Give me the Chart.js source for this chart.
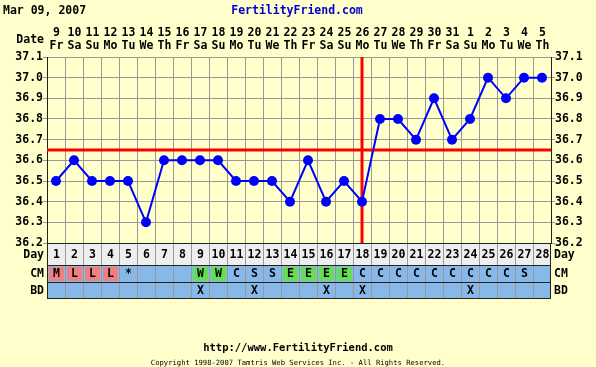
<!DOCTYPE html>
<html>
<head>
<meta charset="utf-8">
<script src="https://cdn.jsdelivr.net/npm/chart.js@4"></script>
<style>
  html, body { margin: 0; padding: 0; background: #ffffcc; }
  #wrap { width: 596px; height: 367px; }
</style>
</head>
<body>
<div id="wrap"><canvas id="bbtChart" width="596" height="367"></canvas></div>
<script>
  const chartDate = 'Mar 09, 2007';
  const days = [1, 2, 3, 4, 5, 6, 7, 8, 9, 10, 11, 12, 13, 14, 15, 16, 17, 18, 19, 20, 21, 22, 23, 24, 25, 26, 27, 28];
  const dates = ['9', '10', '11', '12', '13', '14', '15', '16', '17', '18', '19', '20', '21', '22', '23', '24', '25', '26', '27', '28', '29', '30', '31', '1', '2', '3', '4', '5'];
  const weekdays = ['Fr', 'Sa', 'Su', 'Mo', 'Tu', 'We', 'Th', 'Fr', 'Sa', 'Su', 'Mo', 'Tu', 'We', 'Th', 'Fr', 'Sa', 'Su', 'Mo', 'Tu', 'We', 'Th', 'Fr', 'Sa', 'Su', 'Mo', 'Tu', 'We', 'Th'];
  const temps = [36.5, 36.6, 36.5, 36.5, 36.5, 36.3, 36.6, 36.6, 36.6, 36.6, 36.5, 36.5, 36.5, 36.4, 36.6, 36.4, 36.5, 36.4, 36.8, 36.8, 36.7, 36.9, 36.7, 36.8, 37.0, 36.9, 37.0, 37.0];
  const cm = ['M', 'L', 'L', 'L', '*', '', '', '', 'W', 'W', 'C', 'S', 'S', 'E', 'E', 'E', 'E', 'C', 'C', 'C', 'C', 'C', 'C', 'C', 'C', 'C', 'S', ''];
  const bd = ['', '', '', '', '', '', '', '', 'X', '', '', 'X', '', '', '', 'X', '', 'X', '', '', '', '', '', 'X', '', '', '', ''];
  const coverline = 36.65;
  const ovulationDay = 18;
  const tempMin = 36.2;
  const tempMax = 37.1;

  const FONT = "'DejaVu Sans Mono', monospace";
  const cmColors = { M: '#f08080', L: '#f08080', W: '#66dd55', E: '#66dd55' };

  // 周りの文字・下の表
  const framePlugin = {
    id: 'frame',
    beforeDatasetsDraw(chart) {
      const { ctx, chartArea: a, scales: { x, y } } = chart;
      ctx.save();
      ctx.strokeStyle = '#ff0000';
      ctx.lineWidth = 3;
      const cy = y.getPixelForValue(coverline);
      ctx.beginPath();
      ctx.moveTo(a.left, cy);
      ctx.lineTo(a.right, cy);
      ctx.stroke();
      const ox = x.getPixelForValue(days.indexOf(ovulationDay));
      ctx.beginPath();
      ctx.moveTo(ox, a.top);
      ctx.lineTo(ox, a.bottom);
      ctx.stroke();
      ctx.restore();
    },
    afterDraw(chart) {
      const { ctx, chartArea: a, scales: { x } } = chart;
      const colW = (a.right - a.left) / days.length;
      const rowDay = [a.bottom, a.bottom + 22];
      const rowCM = [a.bottom + 22, a.bottom + 39];
      const rowBD = [a.bottom + 39, a.bottom + 55];
      ctx.save();

      // 背景
      ctx.fillStyle = '#eeeeee';
      ctx.fillRect(a.left, rowDay[0], a.right - a.left, rowDay[1] - rowDay[0]);
      ctx.fillStyle = '#88b8e8';
      ctx.fillRect(a.left, rowCM[0], a.right - a.left, rowBD[1] - rowCM[0]);

      // CMの色
      cm.forEach((c, i) => {
        if (cmColors[c]) {
          const left = x.getPixelForValue(i) - colW / 2;
          ctx.fillStyle = cmColors[c];
          ctx.fillRect(left + 2, rowCM[0] + 2, colW - 3, rowCM[1] - rowCM[0] - 3);
        }
      });

      // 縦線
      ctx.strokeStyle = '#999999';
      ctx.lineWidth = 1;
      for (let i = 1; i < days.length; i++) {
        const bx = Math.round(a.left + i * colW) + 0.5;
        ctx.beginPath();
        ctx.moveTo(bx, rowDay[0]);
        ctx.lineTo(bx, rowBD[1]);
        ctx.stroke();
      }
      // 横線
      ctx.strokeStyle = '#222222';
      [rowDay[0], rowCM[0], rowBD[0], rowBD[1]].forEach(ly => {
        ctx.beginPath();
        ctx.moveTo(a.left, ly + 0.5);
        ctx.lineTo(a.right, ly + 0.5);
        ctx.stroke();
      });
      ctx.beginPath();
      ctx.moveTo(a.left + 0.5, rowDay[0]);
      ctx.lineTo(a.left + 0.5, rowBD[1]);
      ctx.moveTo(a.right - 0.5, rowDay[0]);
      ctx.lineTo(a.right - 0.5, rowBD[1]);
      ctx.stroke();

      // セルの文字
      ctx.fillStyle = '#000000';
      ctx.textAlign = 'center';
      ctx.textBaseline = 'middle';
      ctx.font = 'bold 11.5px ' + FONT;
      days.forEach((d, i) => {
        const cx = x.getPixelForValue(i);
        ctx.fillText(String(d), cx + 0.5, (rowDay[0] + rowDay[1]) / 2 + 1);
        if (cm[i]) ctx.fillText(cm[i], cx + 0.5, (rowCM[0] + rowCM[1]) / 2 + 1);
        if (bd[i]) ctx.fillText(bd[i], cx + 0.5, (rowBD[0] + rowBD[1]) / 2 + 1);
        ctx.fillText(dates[i], cx + 0.5, 33);
        ctx.fillText(weekdays[i], cx + 0.5, 46);
      });

      // 行ラベル
      ctx.textAlign = 'right';
      ctx.fillText('Date', a.left - 3, 40);
      ctx.fillText('Day', a.left - 3, (rowDay[0] + rowDay[1]) / 2 + 1);
      ctx.fillText('CM', a.left - 3, (rowCM[0] + rowCM[1]) / 2 + 1);
      ctx.fillText('BD', a.left - 3, (rowBD[0] + rowBD[1]) / 2 + 1);
      ctx.textAlign = 'left';
      ctx.fillText('Day', a.right + 3, (rowDay[0] + rowDay[1]) / 2 + 1);
      ctx.fillText('CM', a.right + 3, (rowCM[0] + rowCM[1]) / 2 + 1);
      ctx.fillText('BD', a.right + 3, (rowBD[0] + rowBD[1]) / 2 + 1);

      // タイトル
      ctx.fillText(chartDate, 3, 11);
      ctx.textAlign = 'center';
      ctx.fillStyle = '#0000cc';
      ctx.fillText('FertilityFriend.com', 297, 11);

      // フッター
      ctx.fillStyle = '#000000';
      ctx.font = 'bold 10.5px ' + FONT;
      ctx.fillText('http://www.FertilityFriend.com', 298, 348);
      ctx.font = '7.2px ' + FONT;
      ctx.fillText('Copyright 1998-2007 Tamtris Web Services Inc. - All Rights Reserved.', 298, 363);
      ctx.restore();
    }
  };

  const tickFont = { family: FONT, size: 11.5, weight: 'bold' };

  const ctx = document.getElementById('bbtChart').getContext('2d');
  const bbtChart = new Chart(ctx, {
    type: 'line',
    data: {
      labels: days,
      datasets: [{
        data: temps,
        borderColor: '#0000ff',
        backgroundColor: '#0000ff',
        borderWidth: 2,
        pointRadius: 5,
        pointBorderWidth: 0,
        pointHoverRadius: 5,
        tension: 0,
        fill: false,
      }]
    },
    options: {
      responsive: false,
      animation: false,
      events: [],
      layout: { padding: { left: 0, right: 0, top: 57, bottom: 124 } },
      plugins: { legend: { display: false }, tooltip: { enabled: false } },
      scales: {
        x: {
          offset: true,
          grid: { color: '#999999', offset: true, drawTicks: false },
          border: { color: '#222222' },
          ticks: { display: false },
          afterFit(s) { s.height = 0; }
        },
        y: {
          position: 'left',
          min: tempMin,
          max: tempMax,
          grid: { color: '#999999', tickLength: 4 },
          border: { color: '#222222' },
          ticks: {
            stepSize: 0.1,
            color: '#000000',
            padding: 0,
            font: tickFont,
            callback: v => v.toFixed(1)
          },
          afterFit(s) { s.width = 47; }
        },
        y2: {
          position: 'right',
          min: tempMin,
          max: tempMax,
          grid: { drawOnChartArea: false, tickLength: 4, color: '#999999' },
          border: { color: '#222222' },
          ticks: {
            stepSize: 0.1,
            color: '#000000',
            padding: 0,
            font: tickFont,
            callback: v => v.toFixed(1)
          },
          afterFit(s) { s.width = 45; }
        }
      }
    },
    plugins: [framePlugin]
  });
</script>
</body>
</html>
